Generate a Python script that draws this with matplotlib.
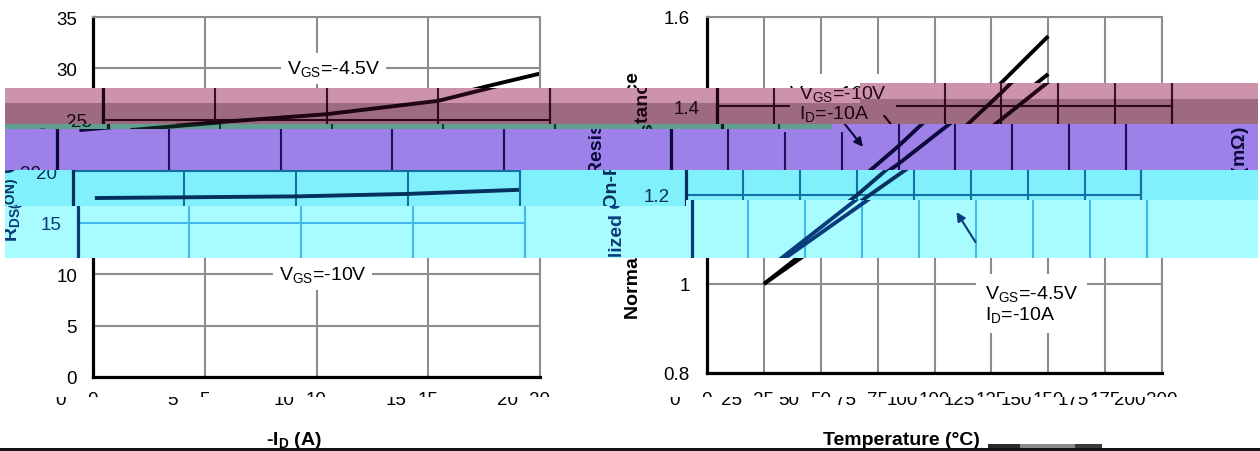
import matplotlib
matplotlib.use('Agg')
import matplotlib.pyplot as plt
from matplotlib.patches import Rectangle
from matplotlib.transforms import Bbox, TransformedBbox
from matplotlib.text import Text, Annotation

plt.rcParams['font.family'] = ['Liberation Sans', 'DejaVu Sans']
plt.rcParams['mathtext.fontset'] = 'custom'
plt.rcParams['mathtext.rm'] = 'Liberation Sans'
plt.rcParams['mathtext.it'] = 'Liberation Sans:italic'
plt.rcParams['mathtext.bf'] = 'Liberation Sans:bold'

# ---------------- data ----------------
drain_current_45 = [1, 2, 5, 10, 15, 17.5, 20]
rds_on_vgs45 = [24.0, 24.2, 24.75, 25.55, 26.85, 28.2, 29.5]
drain_current_10 = [1, 5, 10, 15, 20]
rds_on_vgs10 = [17.4, 17.47, 17.56, 17.8, 18.2]
temperature = [25, 50, 75, 100, 125, 150]
rnorm_vgs10 = [1.0, 1.10, 1.20, 1.31, 1.43, 1.557]
rnorm_vgs45 = [1.0, 1.09, 1.18, 1.27, 1.37, 1.472]
left_xticks = [0, 5, 10, 15, 20]
left_yticks = [0, 5, 10, 15, 20, 25, 30, 35]
right_xticks = [0, 25, 50, 75, 100, 125, 150, 175, 200]
right_yticks = [0.8, 1.0, 1.2, 1.4, 1.6]
right_yticklabels = ['0.8', '1', '1.2', '1.4', '1.6']
label_45 = 'V$_{\\mathrm{GS}}$=-4.5V'
label_10 = 'V$_{\\mathrm{GS}}$=-10V'
label_10_id = 'V$_{\\mathrm{GS}}$=-10V\nI$_{\\mathrm{D}}$=-10A'
label_45_id = 'V$_{\\mathrm{GS}}$=-4.5V\nI$_{\\mathrm{D}}$=-10A'
left_ylabel = 'R$_{\\mathbf{DS(ON)}}$ (mΩ)'
left_xlabel = '-I$_{\\mathbf{D}}$ (A)'
right_ylabel = 'Normalized On-Resistance'
right_xlabel = 'Temperature (°C)'

W, H = 1260, 452
WRAP = 1248
fig = plt.figure(figsize=(W / 100, H / 100), dpi=100)
fig.patch.set_facecolor('white')


def frac(x0, ytop, x1, ybot):
    return [x0 / W, 1 - ybot / H, (x1 - x0) / W, (ybot - ytop) / H]


LEFT_BOX = (93, 18, 540, 378)
RIGHT_BOX = (707, 18, 1162, 374)


def style_axes(ax, st, xpad, ypad):
    ax.set_facecolor(st.get('axbg', 'none'))
    ax.grid(True, color=st['grid'], lw=1.5)
    ax.set_axisbelow(True)
    for s in ('top', 'right'):
        ax.spines[s].set_color(st['grid'])
        ax.spines[s].set_linewidth(1.5)
    for s in ('left', 'bottom'):
        ax.spines[s].set_color(st['dark'])
        ax.spines[s].set_linewidth(2.3)
    ax.tick_params(axis='both', length=0, labelsize=13.5, labelcolor=st['dark'])
    ax.tick_params(axis='x', pad=xpad)
    ax.tick_params(axis='y', pad=ypad)


def box(st, pad):
    return dict(boxstyle='square,pad=%g' % pad, fc=st['bg'], ec='none')


def draw_left(ax, st):
    ax.plot(drain_current_45, rds_on_vgs45, color=st['dark'], lw=2.8, solid_capstyle='butt')
    ax.plot(drain_current_10, rds_on_vgs10, color=st['dark'], lw=2.8, solid_capstyle='butt')
    ax.set_xlim(0, 20)
    ax.set_ylim(0, 35)
    ax.set_xticks(left_xticks)
    ax.set_yticks(left_yticks)
    style_axes(ax, st, 10.0, 11.5)
    ax.text(10.76, 30, label_45, ha='center', va='center', fontsize=14,
            color=st['dark'], bbox=box(st, 0.3))
    ax.text(10.27, 10, label_10, ha='center', va='center', fontsize=14,
            color=st['dark'], bbox=box(st, 0.3))
    ax.text(-0.141, 0.5375, left_ylabel, transform=ax.transAxes, rotation=90,
            ha='center', va='center', fontsize=14, fontweight='bold', color=st['dark'])
    ax.text(0.521, -0.186, left_xlabel, transform=ax.transAxes, ha='center',
            va='baseline', fontsize=14, fontweight='bold', color=st['dark'])


def draw_right(ax, st):
    ax.plot(temperature, rnorm_vgs10, color=st['dark'], lw=2.8, solid_capstyle='butt')
    ax.plot(temperature, rnorm_vgs45, color=st['dark'], lw=2.8, solid_capstyle='butt')
    ax.set_xlim(0, 200)
    ax.set_ylim(0.8, 1.6)
    ax.set_xticks(right_xticks)
    ax.set_yticks(right_yticks)
    ax.set_yticklabels(right_yticklabels)
    style_axes(ax, st, 13.0, 12.3)
    ax.text(36, 1.4067, label_10_id, ha='left', va='center', fontsize=14,
            linespacing=1.0, color=st['dark'], bbox=box(st, 0.45))
    ax.annotate('', xy=(84.4, 1.308), xytext=(73.5, 1.378),
                arrowprops=dict(arrowstyle='-|>', color=st['dark'], lw=1.5,
                                mutation_scale=13, shrinkA=0, shrinkB=0))
    ax.text(122, 0.9557, label_45_id, ha='left', va='center', fontsize=14,
            linespacing=1.1, color=st['dark'], bbox=box(st, 0.45))
    ax.annotate('', xy=(116.5, 1.1618), xytext=(124.8, 1.0944),
                arrowprops=dict(arrowstyle='-|>', color=st['dark'], lw=1.5,
                                mutation_scale=13, shrinkA=0, shrinkB=0))
    ax.text(-0.1626, 0.5, right_ylabel, transform=ax.transAxes, rotation=90,
            ha='center', va='center', fontsize=14, fontweight='bold', color=st['dark'])
    ax.text(0.4967, -0.1994, right_xlabel, transform=ax.transAxes, ha='center',
            va='baseline', fontsize=14, fontweight='bold', color=st['dark'])


def build(dx, st, z):
    l0, t0, r0, b0 = LEFT_BOX
    l1, t1, r1, b1 = RIGHT_BOX
    axl = fig.add_axes(frac(l0 + dx, t0, r0 + dx, b0), zorder=z)
    axr = fig.add_axes(frac(l1 + dx, t1, r1 + dx, b1), zorder=z)
    draw_left(axl, st)
    draw_right(axr, st)
    return [axl, axr]


styles = {
    'base': dict(bg='white', dark='black', grid='#8c8c8c', axbg='white'),
    'white': dict(bg='white', dark='black', grid='#8c8c8c'),
    'pinkL': dict(bg='#cc93ab', dark='#220816', grid='#3c1226'),
    'pinkD': dict(bg='#9e6a80', dark='#1c0410', grid='#2c0818'),
    'green': dict(bg='#5fa08f', dark='#0a2218', grid='#123a2e'),
    'purple': dict(bg='#9d80e8', dark='#0c0a3c', grid='#1e0e5c'),
    'cyan1': dict(bg='#80f0fc', dark='#06305e', grid='#1670a6'),
    'cyan2': dict(bg='#a8fcff', dark='#0a3c7c', grid='#42b8f0'),
}

# glitch bands of the scan: (x0, x1, y_top, y_bottom, row shift, style, wraps)
bands = [
    (5, 860, 89, 104, 10, 'pinkL', False),
    (860, 1258, 84, 100, 10, 'pinkL', False),
    (5, 860, 104, 125, 10, 'pinkD', False),
    (860, 1258, 100, 125, 10, 'pinkD', False),
    (5, 832, 125, 130, 15, 'green', False),
    (5, 832, 130, 171, -36, 'purple', True),
    (832, 1258, 125, 171, -36, 'purple', True),
    (5, 686, 171, 206.5, -20.5, 'cyan1', False),
    (686, 1258, 171, 201, -20.5, 'cyan1', False),
    (5, 686, 206.5, 259, -15.5, 'cyan2', False),
    (686, 1258, 201, 259, -15.5, 'cyan2', False),
    (0, 1260, 397.5, 449, -32, 'white', False),
]

build(0, styles['base'], 0)

copies = []
for k, (x0, x1, yt, yb, dx, sname, wrap) in enumerate(bands):
    st = styles[sname]
    z = 10 + 3 * k
    fig.add_artist(Rectangle((x0 / W, 1 - yb / H), (x1 - x0) / W, (yb - yt) / H,
                             transform=fig.transFigure, fc=st['bg'], ec='none', zorder=z))
    bb = TransformedBbox(Bbox.from_bounds(x0 / W, 1 - yb / H, (x1 - x0) / W, (yb - yt) / H),
                         fig.transFigure)
    axes = build(dx, st, z + 1)
    if wrap:
        axes += build(dx + WRAP if dx < 0 else dx - WRAP, st, z + 1)
    copies.append((axes, bb))

# bottom dark bar and scan residue
fig.add_artist(Rectangle((0, 0), 1, 3 / H, transform=fig.transFigure,
                         fc='#161616', ec='none', zorder=200))
for xa, xb, col in [(988, 1020, '#2a2a2a'), (1020, 1075, '#8a8a8a'), (1075, 1102, '#3a3a3a')]:
    fig.add_artist(Rectangle((xa / W, 3 / H), (xb - xa) / W, 4 / H, transform=fig.transFigure,
                             fc=col, ec='none', zorder=200))

fig.canvas.draw()
for axes, bb in copies:
    for ax in axes:
        for a in ax.findobj(include_self=False):
            if isinstance(a, Text):
                a.set_clip_path(None)
            a.set_clip_box(bb)
            a.set_clip_on(True)
            if isinstance(a, Annotation) and a.arrow_patch is not None:
                a.arrow_patch.set_clip_path(None)
                a.arrow_patch.set_clip_box(bb)
                a.arrow_patch.set_clip_on(True)

fig.savefig('out.png', dpi=100, facecolor='white')
